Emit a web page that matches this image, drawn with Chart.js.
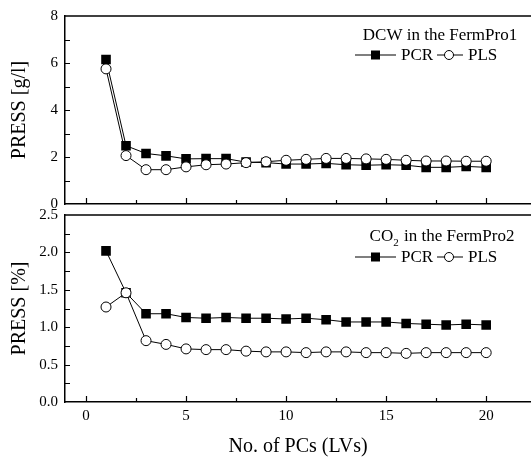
<!DOCTYPE html>
<html>
<head>
<meta charset="utf-8">
<script src="https://cdn.jsdelivr.net/npm/chart.js@4"></script>
<style>
html, body { margin: 0; padding: 0; background: #fff; overflow: hidden; }
#wrap { position: relative; width: 531px; height: 461px; overflow: hidden; }
canvas { position: absolute; left: 0; top: 0; }
</style>
</head>
<body>
<div id="wrap">
  <canvas id="dcwChart" width="538" height="461"></canvas>
  <canvas id="co2Chart" width="538" height="461"></canvas>
</div>
<script>
// number of PCs / LVs
const pcs = [1, 2, 3, 4, 5, 6, 7, 8, 9, 10, 11, 12, 13, 14, 15, 16, 17, 18, 19, 20];

// DCW in the FermPro1, PRESS [g/l]
const dcwPcr = [6.15, 2.48, 2.15, 2.05, 1.92, 1.93, 1.93, 1.78, 1.76, 1.70, 1.70, 1.73, 1.67, 1.65, 1.67, 1.65, 1.56, 1.56, 1.60, 1.56];
const dcwPls = [5.75, 2.06, 1.46, 1.46, 1.58, 1.67, 1.70, 1.76, 1.80, 1.86, 1.90, 1.94, 1.94, 1.92, 1.90, 1.86, 1.83, 1.83, 1.82, 1.82];

// CO2 in the FermPro2, PRESS [%]
const co2Pcr = [2.02, 1.46, 1.18, 1.18, 1.13, 1.12, 1.13, 1.12, 1.12, 1.11, 1.12, 1.10, 1.07, 1.07, 1.07, 1.05, 1.04, 1.03, 1.04, 1.03];
const co2Pls = [1.27, 1.46, 0.82, 0.77, 0.71, 0.70, 0.70, 0.68, 0.67, 0.67, 0.66, 0.67, 0.67, 0.66, 0.66, 0.65, 0.66, 0.66, 0.66, 0.66];

// tick labels
const xTicks = [0, 5, 10, 15, 20];
const dcwTicks = [0, 2, 4, 6, 8];
const co2Ticks = [0, 0.5, 1.0, 1.5, 2.0, 2.5];

const SERIF = '"Liberation Serif", "Times New Roman", serif';

// frame top line + inward tick marks
const frameTicks = {
    id: 'frameTicks',
    afterDraw(chart, args, opts) {
        const { ctx, chartArea: a } = chart;
        const x = chart.scales.x, y = chart.scales.y;
        ctx.save();
        ctx.strokeStyle = '#000';
        ctx.lineWidth = 1.5;
        ctx.beginPath();
        ctx.moveTo(a.left, a.top);
        ctx.lineTo(chart.width, a.top);
        ctx.stroke();

        ctx.lineWidth = 1.2;
        ctx.beginPath();
        for (let v = 0; v <= x.max; v += 2.5) {
            const px = Math.round(x.getPixelForValue(v)) + 0.5;
            const len = v % 5 === 0 ? 6 : 4;
            ctx.moveTo(px, a.bottom);
            ctx.lineTo(px, a.bottom - len);
        }
        const half = opts.yStep / 2;
        for (let v = y.min + half; v < y.max - 1e-6; v += half) {
            const py = Math.round(y.getPixelForValue(v)) + 0.5;
            ctx.moveTo(a.left, py);
            ctx.lineTo(a.left + 5, py);
        }
        ctx.stroke();
        ctx.restore();
    }
};

// panel title + legend drawn inside the plot
const panelLegend = {
    id: 'panelLegend',
    afterDraw(chart, args, opts) {
        const ctx = chart.ctx;
        ctx.save();
        ctx.fillStyle = '#000';
        ctx.textBaseline = 'middle';
        const big = '17px ' + SERIF;
        const small = '11px ' + SERIF;

        // title with optional subscript
        ctx.font = big;
        const w1 = ctx.measureText(opts.head).width;
        const w3 = ctx.measureText(opts.tail).width;
        ctx.font = small;
        const w2 = opts.sub ? ctx.measureText(opts.sub).width + 1 : 0;
        let tx = opts.cx - (w1 + w2 + w3) / 2;
        ctx.textAlign = 'left';
        ctx.font = big;
        ctx.fillText(opts.head, tx, opts.ty);
        tx += w1;
        if (opts.sub) {
            ctx.font = small;
            ctx.fillText(opts.sub, tx, opts.ty + 6);
            tx += w2;
        }
        ctx.font = big;
        ctx.fillText(opts.tail, tx, opts.ty);

        // legend row
        const ly = opts.ly;
        ctx.strokeStyle = '#000';
        ctx.lineWidth = 1.2;
        ctx.beginPath();
        ctx.moveTo(355, ly); ctx.lineTo(396, ly);
        ctx.moveTo(437, ly); ctx.lineTo(463, ly);
        ctx.stroke();
        ctx.fillRect(371, ly - 4.5, 9, 9);
        ctx.beginPath();
        ctx.arc(449, ly, 4.5, 0, Math.PI * 2);
        ctx.fillStyle = '#fff';
        ctx.fill();
        ctx.lineWidth = 1;
        ctx.stroke();
        ctx.fillStyle = '#000';
        ctx.font = big;
        ctx.fillText('PCR', 401, ly + 1);
        ctx.fillText('PLS', 468, ly + 1);
        ctx.restore();
    }
};

function makePanel(canvasId, pcr, pls, yTicks, yStep, yTitle, bottomPanel, legend) {
    const ctx = document.getElementById(canvasId).getContext('2d');
    return new Chart(ctx, {
        type: 'line',
        data: {
            datasets: [
                {
                    label: 'PLS',
                    data: pcs.map((v, i) => ({ x: v, y: pls[i] })),
                    borderColor: '#000',
                    borderWidth: 1,
                    pointStyle: 'circle',
                    pointRadius: 5,
                    pointBackgroundColor: '#fff',
                    pointBorderColor: '#000',
                    pointBorderWidth: 1,
                    order: 0
                },
                {
                    label: 'PCR',
                    data: pcs.map((v, i) => ({ x: v, y: pcr[i] })),
                    borderColor: '#000',
                    borderWidth: 1,
                    pointStyle: 'rect',
                    pointRadius: 6.8,
                    pointBackgroundColor: '#000',
                    pointBorderColor: '#000',
                    pointBorderWidth: 0,
                    order: 1
                }
            ]
        },
        options: {
            responsive: false,
            animation: false,
            events: [],
            layout: {
                padding: bottomPanel
                    ? { top: 215, bottom: 0, left: 0, right: 0 }
                    : { top: 16, bottom: 257, left: 0, right: 0 }
            },
            plugins: {
                legend: { display: false },
                tooltip: { enabled: false },
                frameTicks: { yStep: yStep },
                panelLegend: legend
            },
            scales: {
                x: {
                    type: 'linear',
                    min: -1.05,
                    max: 22.25,
                    afterBuildTicks: s => { s.ticks = xTicks.map(v => ({ value: v })); },
                    afterFit: s => { s.height = bottomPanel ? 59 : 0; },
                    grid: { display: false, drawTicks: false },
                    border: { display: true, color: '#000', width: 1.5 },
                    ticks: {
                        display: bottomPanel,
                        color: '#000',
                        padding: 5,
                        maxRotation: 0,
                        font: { family: SERIF, size: 15 }
                    },
                    title: {
                        display: bottomPanel,
                        text: 'No. of PCs (LVs)',
                        color: '#000',
                        padding: { top: 2, bottom: 2 },
                        font: { family: SERIF, size: 20 }
                    }
                },
                y: {
                    type: 'linear',
                    min: yTicks[0],
                    max: yTicks[yTicks.length - 1],
                    afterBuildTicks: s => { s.ticks = yTicks.map(v => ({ value: v })); },
                    afterFit: s => { s.width = 65; },
                    grid: { display: false, drawTicks: false },
                    border: { display: true, color: '#000', width: 1.5 },
                    ticks: {
                        color: '#000',
                        padding: 7,
                        font: { family: SERIF, size: 15 },
                        callback: v => bottomPanel ? v.toFixed(1) : String(v)
                    },
                    title: {
                        display: true,
                        text: yTitle,
                        color: '#000',
                        padding: { top: 8, bottom: 8 },
                        font: { family: SERIF, size: 20 }
                    }
                }
            }
        },
        plugins: [frameTicks, panelLegend]
    });
}

makePanel('dcwChart', dcwPcr, dcwPls, dcwTicks, 2, 'PRESS [g/l]', false,
    { head: 'DCW in the FermPro1', sub: '', tail: '', cx: 440, ty: 36, ly: 55 });
makePanel('co2Chart', co2Pcr, co2Pls, co2Ticks, 0.5, 'PRESS [%]', true,
    { head: 'CO', sub: '2', tail: ' in the FermPro2', cx: 442, ty: 237, ly: 257 });
</script>
</body>
</html>
